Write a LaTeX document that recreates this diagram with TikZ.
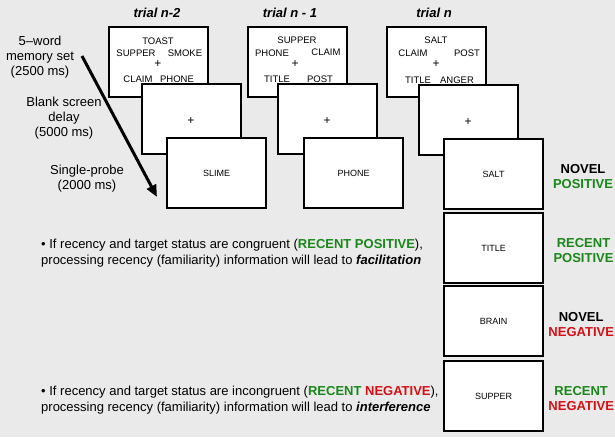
\documentclass[tikz,border=0pt]{standalone}
\usepackage{fontspec}
\setmainfont{Liberation Sans}
\usetikzlibrary{arrows.meta}
\definecolor{bg}{RGB}{234,234,234}
\definecolor{grn}{RGB}{25,135,25}
\definecolor{rd}{RGB}{215,15,20}
\begin{document}
\begin{tikzpicture}[x=1pt,y=-1pt,
 screen/.style={draw=black,line width=2.2pt,fill=white,minimum width=99pt,minimum height=70pt,inner sep=0pt,anchor=north west,font=\fontsize{9}{10}\selectfont,text depth=-3pt},
 word/.style={font=\fontsize{9.5}{10}\selectfont,inner sep=0pt},
 plus/.style={font=\fontsize{12}{12}\selectfont,inner sep=0pt},
 lab/.style={font=\fontsize{13}{15}\selectfont,align=center,inner sep=0pt},
 ttl/.style={font=\fontsize{13}{15}\selectfont\bfseries\itshape,inner sep=0pt},
 cond/.style={font=\fontsize{13}{15}\selectfont\bfseries,align=center,inner sep=0pt},
 bul/.style={font=\fontsize{13}{15}\selectfont,anchor=base west,inner sep=0pt}]
\fill[bg] (0,0) rectangle (615,437);
\useasboundingbox (0,0) rectangle (615,437);

% titles
\node[ttl] (t1) at (157,13) {trial n-2};
\node[ttl] (t2) at (290,13) {trial n - 1};
\node[ttl] (t3) at (434,13) {trial n};

% trial n-2
\node[screen] (m1) at (108,26) {};
\node[word] (m1a) at (158,41) {TOAST};
\node[word] (m1b) at (136,53) {SUPPER};
\node[word] (m1c) at (185,53) {SMOKE};
\node[plus] (m1d) at (158,64) {+};
\node[word] (m1e) at (138,79) {CLAIM};
\node[word] (m1f) at (177,79) {PHONE};
\node[screen] (b1) at (141,83) {};
\node[plus] (b1p) at (191,121) {+};
\node[screen] (p1) at (166,137) {SLIME};

% trial n-1
\node[screen] (m2) at (247,26) {};
\node[word] (m2a) at (297,40) {SUPPER};
\node[word] (m2b) at (272,53) {PHONE};
\node[word] (m2c) at (326,52) {CLAIM};
\node[plus] (m2d) at (295,64) {+};
\node[word] (m2e) at (277,79) {TITLE};
\node[word] (m2f) at (320,79) {POST};
\node[screen] (b2) at (277,83) {};
\node[plus] (b2p) at (327,121) {+};
\node[screen] (p2) at (303,137) {PHONE};

% trial n
\node[screen] (m3) at (386,26) {};
\node[word] (m3a) at (436,40) {SALT};
\node[word] (m3b) at (413,53) {CLAIM};
\node[word] (m3c) at (467,53) {POST};
\node[plus] (m3d) at (436,64) {+};
\node[word] (m3e) at (418,80) {TITLE};
\node[word] (m3f) at (457,80) {ANGER};
\node[screen] (b3) at (418,84) {};
\node[plus] (b3p) at (468,122) {+};
\node[screen] (p3) at (443,138) {SALT};

% further probes
\node[screen] (p4) at (443,212) {TITLE};
\node[screen] (p5) at (443,285) {BRAIN};
\node[screen] (p6) at (443,360) {SUPPER};

% condition labels
\node[cond] (c1) at (583,176.5) {NOVEL\\\textcolor{grn}{POSITIVE}};
\node[cond] (c2) at (583.5,251) {\textcolor{grn}{RECENT}\\\textcolor{grn}{POSITIVE}};
\node[cond] (c3) at (581.2,325) {NOVEL\\\textcolor{rd}{NEGATIVE}};
\node[cond] (c4) at (581.2,399) {\textcolor{grn}{RECENT}\\\textcolor{rd}{NEGATIVE}};

% left labels
\node[lab] (l1) at (40,57) {5–word\\memory set\\(2500 ms)};
\node[lab] (l2) at (64,118) {Blank screen\\delay\\(5000 ms)};
\node[lab] (l3) at (87,178.5) {Single-probe\\(2000 ms)};

% arrow
\coordinate (as) at (82,56);
\coordinate (ae) at (157,197);
\draw[line width=3pt,-{Triangle[length=12pt,width=10pt]}] (as) -- (ae);

% bullets
\node[bul] (x1) at (41,248.5) {• If recency and target status are congruent (\textbf{\textcolor{grn}{RECENT POSITIVE}}),};
\node[bul] (x2) at (41,264.5) {processing recency (familiarity) information will lead to \textbf{\textit{facilitation}}};
\node[bul] (x3) at (41,395.5) {• If recency and target status are incongruent (\textbf{\textcolor{grn}{RECENT} \textcolor{rd}{NEGATIVE}}),};
\node[bul] (x4) at (41,411.5) {processing recency (familiarity) information will lead to \textbf{\textit{interference}}};
\end{tikzpicture}
\end{document}
